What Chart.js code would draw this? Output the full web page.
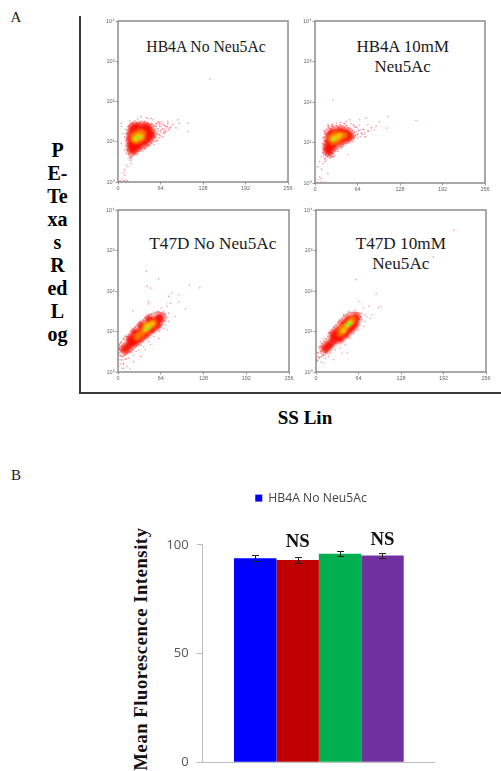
<!DOCTYPE html>
<html><head><meta charset="utf-8">
<style>
html,body{margin:0;padding:0;background:#fff;width:501px;height:771px;overflow:hidden}
canvas{position:absolute;display:block}
.t{position:absolute;font-family:"Liberation Serif",serif;color:#1a1a1a;white-space:nowrap;text-align:center;transform:translateX(-50%);line-height:19.7px}
.b{font-weight:bold;color:#000}
.frame{position:absolute;left:79px;top:16px;width:421px;height:376px;border-left:2px solid #3a3a3a;border-bottom:2px solid #3a3a3a}
#yt{position:absolute;left:141px;top:649px;font:bold 18.5px "Liberation Serif",serif;letter-spacing:.6px;white-space:nowrap;color:#111;transform:translate(-50%,-50%) rotate(-90deg)}
</style></head><body>
<div class="frame"></div>
<div class="t" style="left:16px;top:8px;font-size:15px">A</div>
<div class="t" style="left:16px;top:466px;font-size:15px">B</div>
<div class="t b" style="left:57.5px;top:139px;font-size:20px;line-height:23px">P<br>E-<br>Te<br>xa<br>s<br>R<br>ed<br>L<br>og</div>
<div class="t b" style="left:305px;top:408px;font-size:19px">SS Lin</div>
<div class="t" style="left:206px;top:37px;font-size:15.7px">HB4A No Neu5Ac</div>
<div class="t" style="left:402.7px;top:37px;font-size:16.9px">HB4A 10mM<br>Neu5Ac</div>
<div class="t" style="left:212.8px;top:234px;font-size:17.2px">T47D No Neu5Ac</div>
<div class="t" style="left:400.8px;top:234px;font-size:17.2px">T47D 10mM<br>Neu5Ac</div>
<div id="yt">Mean Fluorescence Intensity</div>
<canvas id="p1"></canvas><canvas id="p2"></canvas><canvas id="p3"></canvas><canvas id="p4"></canvas>
<canvas id="bars"></canvas>
<script src="https://cdn.jsdelivr.net/npm/chart.js@4"></script>
<script>
// ---------- flow cytometry tick labels ----------
const xTickValues = [0, 64, 128, 192, 256];
const yTickValues = [1, 10, 100, 1000, 10000];
const yTickLabels = ['10\u2070', '10\u00B9', '10\u00B2', '10\u00B3', '10\u2074'];

// ---------- HB4A No Neu5Ac: [SS Lin, PE-Texas Red Log] ----------
const hb4aNoSpeck = [[138,363],[57.5,27],[62.5,24.5],[67.5,27],[72.5,22],[60,18],[65,16.5],[70,19.6],[75,29],[80,24],[62.5,12.5],[57.5,12.5],[67.5,13.4],[55,10],[50,9],[45,7.5],[42.5,7],[37.5,5.8],[32.5,5.8],[27.5,4.8],[22.5,4.3],[20,3.5],[15,3.9],[12.5,5.1],[10,6.2],[15,7.5],[12.5,10],[17.5,3.5],[12.5,2.6],[10,2],[7.5,1.7],[15,2.4],[20,2.9],[6,1.2],[10,1.1],[14,1.05],[4,1.05],[8,1.05],[12.5,1.05],[15,1.03],[2.5,1.05],[10,1.5],[30,37],[25,33],[35,42],[45,38],[50,38],[42.5,40],[90,35],[92.5,29],[105,29],[105,18],[82.5,27],[87.5,22],[75,32],[65,24],[5,29],[5,24],[7.5,16],[5,9],[17.5,33],[22.5,30],[32.5,29],[40,32],[52.5,35],[12,16],[10,13],[13,12],[14,6],[12,8],[17,4.6],[25,5],[30,5],[40,6.5],[48,8],[54,8.5],[60,11],[64,14],[70,16],[76,20],[58,29],[66,31],[44,30],[36,32],[28,29],[15,24],[12,20]];
const hb4aNoHalo = [[16,24],[18,27],[21,29],[24,27],[27,30],[30,28],[33,31],[36,28],[39,30],[42,27],[45,29],[48,27],[51,28],[54,25],[57,24],[60,21],[56,20],[59,16],[62,15],[55,13],[58,10.5],[53,11],[51,9.5],[48,10],[46,8.3],[43,8],[40,7],[37,6.8],[35,6.2],[33,6.6],[30,5.8],[27,5.5],[24,5],[21,4.6],[18,4.2],[16,5],[14,6.5],[15,9],[13,11],[15,13],[14,16],[15,19],[17,21],[19,4],[23,6],[16,7.5],[64,19],[67,21],[69,17],[72,18],[74,24],[78,22],[63,28],[70,25],[61,31]];
const hb4aNoDense = [[23,22],[30,23],[40,23],[46,21],[50,15.5],[46,12.5],[40,10],[32,8.5],[26,7.2],[21,6.2],[20,8.5],[20,12],[21,16],[27,16],[35,16],[42,16],[27,11],[35,12],[26,9]];
const hb4aNoOrange = [[23,13.4],[27,15],[32,16.5],[37,16],[25,11],[30,11],[36,12.5]];
const hb4aNoYellow = [[27.5,12.5],[31,13.4],[26,11.5],[34,13.4]];
const hb4aNoCore = [[29,13]];

// ---------- HB4A 10mM Neu5Ac ----------
const hb4a10Speck = [[62,18.7],[69.5,20.6],[74.5,17],[67,27.4],[79.5,27.4],[77,40],[67,36.5],[89.5,20.6],[97,33],[109.5,44],[152,35],[108,22.7],[92,25],[52,36.5],[47,33],[32,30],[19.5,27],[24.5,25],[14.5,17],[12,12.8],[11,9.6],[12,6.6],[9.5,4.5],[13,5],[7,3.4],[4.5,2.5],[17,3.7],[22,4.1],[27,5.4],[34.5,6],[42,7.9],[49.5,9.6],[57,10.6],[64.5,12.8],[72,15.5],[14.5,3.4],[19.5,1.7],[7,1.4],[4.5,1.2],[2,1.04],[8,1.04],[12,1.04],[16,1.04],[9.5,1.3],[49.5,5],[27,110],[14,6],[16,4.7],[12,3],[10,2.2],[20,5],[60,24],[54,29],[38,31],[60,14],[68,14],[40,7],[30,4.6]];
const hb4a10Halo = [[14,19],[17,21],[20,23],[23,22],[26,25],[29,24],[32,26],[35,24],[38,27],[41,25],[44,24],[47,26],[50,23],[53,22],[56,20],[59,18],[61,15],[58,13],[55,12],[52,10.5],[49,11],[46,9.5],[43,9],[40,8],[37,7.6],[34,7],[31,6.3],[28,6.5],[25,5.5],[22,5],[19,4.5],[16,5.2],[14,7],[13,9],[15,11],[14,13.5],[16,16],[18,8],[21,6],[24,4.4],[27,4.5],[64,16],[66,20],[70,17],[73,21],[76,14],[80,19],[85,23],[62,24],[58,27],[44,29],[26,28],[20,26],[12,5.5],[15,4]];
const hb4a10Dense = [[27,17.5],[37,19],[46,17.5],[52,14.5],[23,15],[21,10.6],[19,7.5],[21,6],[27,8.2],[37,10.6],[46,12.8],[32,14],[42,14.6],[27,10.6]];
const hb4a10Orange = [[24.5,12.8],[29.5,15.5],[37,15.5],[44,15],[27,10.6],[34.5,11.7]];
const hb4a10Yellow = [[27,12.2],[32,13.5],[37,14.6]];
const hb4a10Core = [[29,12.2]];

// ---------- T47D No Neu5Ac ----------
const t47dNoSpeck = [[42.5,307],[61,198],[43.5,130],[48.5,118],[107,141],[122.5,121],[81,89],[76,74],[91,81],[91,55],[46,55],[46,48],[22.5,32],[101,36],[78.5,50],[73.5,42],[64.5,38],[86,23.5],[71,26],[76,28.5],[68.5,31],[58.5,28.5],[48.5,21.4],[41,17.7],[31,13.3],[23.5,10],[16,7.5],[8.5,6.2],[3.5,5.1],[76,17.7],[71,14.6],[68.5,12],[61,10],[53.5,7.5],[46,5.6],[38.5,4.2],[31,3.5],[23.5,2.6],[16,2.2],[8.5,2],[3.5,1.6],[1,1.36],[6,1.23],[13.5,1.36],[18.5,1.19],[23.5,1.8],[33.5,2.4],[1,3.9],[2,2.6],[8.5,1.23],[41,3.5],[48.5,4.7],[61,6.8],[73.5,11],[5,3.2],[3,4.2],[9,5],[13,6.4],[11,2.8],[15,3],[20,3.2],[27,3.2],[35,4.6],[66,18],[72,21],[53,30],[40,15],[28,9.5],[19,8.2]];
const t47dNoHalo = [[2,4.8],[5,5.5],[8,6.8],[11,7.6],[14,7.5],[17,8.5],[20,10],[23,11.5],[26,13],[29,14.5],[32,16],[35,17.5],[38,19],[41,22],[44,24],[47,26],[50,27],[53,27],[56,29],[59,31],[62,30],[65,29],[68,28],[4,2.5],[7,2.4],[10,2.6],[13,2.9],[16,3.2],[19,3.1],[22,3.5],[25,4],[28,4.4],[31,4.8],[34,5.4],[37,5.8],[40,6.6],[43,7.2],[46,8],[49,8.8],[52,9.6],[55,10.5],[58,11.5],[61,12.6],[64,14],[67,15.5],[70,18],[72,23],[70,27],[1,3],[1,2],[3,3.5],[6,4.4],[0.5,4.5],[2,3.8],[5,2],[8,1.6],[12,2.1]];
const t47dNoDense = [[10,3.6],[16,4.4],[22,5.4],[28.5,7.5],[36,9.6],[43.5,12.4],[51,15.5],[58.5,19],[63,22],[26,6],[33,7],[41,8.8],[50,11.6],[58,14.5],[19,6.4],[26,9.2],[36,13.5],[47,19.5]];
const t47dNoOrange = [[33.5,8.4],[38.5,10],[43.5,12.4],[48.5,14.5],[53.5,16.5],[41,13.4],[28.5,7.3]];
const t47dNoYellow = [[41,11.2],[46,13],[51,15.5],[43.5,14]];
const t47dNoCore = [[44,12]];

// ---------- T47D 10mM Neu5Ac ----------
const t47d10Speck = [[207.5,3133],[176.5,697],[60.5,191],[90.5,86],[97.5,42],[94,38],[64,55],[79,42],[71.5,38],[59,34],[69,28.5],[74,26],[84,26],[81.5,21],[74,17.7],[71.5,13.3],[64,11],[56.5,9.1],[51.5,6.8],[44,4.7],[36.5,3.9],[47.5,3],[29,3.5],[21.5,2.9],[14,2.2],[7.5,1.74],[1.5,2],[0.5,2.9],[4,3.9],[6.5,5.6],[11.5,6.8],[19,9.1],[26.5,12],[34,17.7],[41.5,26],[49,31],[51.5,26],[19,2.4],[26.5,2],[11.5,1.64],[39,2.9],[4,2.4],[76.5,23.5],[69,19.5],[64,14.6],[8,2.8],[12,2.6],[16,3],[24,4.5],[31,5],[9,4.4],[14,5.4],[40,6],[48,7.2],[58,12],[66,17],[56,28]];
const t47d10Halo = [[3,3],[6,4.2],[9,5],[12,5.8],[15,6.6],[18,7.6],[21,9.5],[24,11],[27,13],[30,14.5],[33,16.5],[36,19],[39,21],[42,24],[45,26],[48,28],[51,29],[54,29],[57,30],[60,29],[63,29],[66,27],[5,2.2],[8,2.4],[11,2.6],[14,3],[17,3.3],[20,3.6],[23,4.1],[26,4.7],[29,5.3],[32,5.9],[35,6.5],[38,7.2],[41,8],[44,9],[47,10],[50,11],[53,12.2],[56,13.5],[59,16],[62,17.5],[65,20],[67,23],[1,2.4],[2,1.9],[7,3.2]];
const t47d10Dense = [[14,3.8],[20,4.7],[26.5,6.2],[34,8.3],[41.5,11],[49,14.6],[56,18.5],[60,22],[27,8.4],[34,10.5],[41.5,15],[49,19.5],[36,6.8],[44,8.8],[51,11.5],[57,14.6]];
const t47d10Orange = [[36.5,9.1],[41.5,11],[46.5,14],[51.5,16.7],[55.5,19.5],[39,12]];
const t47d10Yellow = [[41.5,10.5],[46.5,14],[51.5,16.7]];
const t47d10Core = [[48,14.4],[50.5,16]];

// ---------- bar chart ----------
const barCategories = [''];
const barSeriesNames = ['HB4A No Neu5Ac', 'HB4A 10mM Neu5Ac', 'T47D No Neu5Ac', 'T47D 10mM Neu5Ac'];
const barValues = [93.9, 93.1, 95.9, 95.1];
const barErrors = [1.5, 1.2, 1.2, 1.3];
const barColors = ['#0000ff', '#c00000', '#00b050', '#7030a0'];
const nsLabels = ['', 'NS', '', 'NS'];
const nsBaselines = [0, 99.2, 0, 100.1];
const barTicks = [0, 50, 100];

// ---------- scatter panels ----------
function toPts(a){ return a.map(p => ({x:p[0], y:p[1]})); }
const frameBorder = { id:'frameBorder',
  beforeDatasetDraw(c,args){ const s=c.data.datasets[args.index].soft; if(s){ c.ctx.save(); c.ctx.filter='blur('+s+'px)'; } },
  afterDatasetDraw(c,args){ if(c.data.datasets[args.index].soft){ c.ctx.restore(); } },
  afterDatasetsDraw(c){
    const a = c.chartArea, g = c.ctx; g.save(); g.strokeStyle='#8c8c8c'; g.lineWidth=1.5;
    g.strokeRect(a.left,a.top,a.right-a.left,a.bottom-a.top); g.restore(); } };

function panel(id, box, speck, halo, dense, orange, yellow, core){
  const cv = document.getElementById(id);
  const padL=24, padR=12, padT=7, padB=16;
  cv.style.left=(box.l-padL)+'px'; cv.style.top=(box.t-padT)+'px';
  cv.style.filter='blur(0.3px)';
  cv.width=box.w+padL+padR; cv.height=box.h+padT+padB;
  const ds = (name,data,color,r,soft) => ({label:name,data:toPts(data),backgroundColor:color,pointRadius:r,pointBorderWidth:0,showLine:false,pointHoverRadius:r,soft:soft});
  new Chart(cv,{type:'scatter',
    data:{datasets:[
      ds('core',core,'#9be828',1.8,0.5),
      ds('yellow',yellow,'rgba(245,205,0,.85)',2.8,1),
      ds('orange',orange,'rgba(255,125,0,.8)',3.8,1.3),
      ds('dense',dense,'rgba(250,10,0,.9)',4.6,1.4),
      ds('halo',halo,'rgba(255,30,40,.6)',0.9,0),
      ds('speck',speck,'rgba(255,50,60,.5)',0.8,0)
    ]},
    plugins:[frameBorder],
    options:{responsive:false,animation:false,
      layout:{padding:{top:padT,right:padR,left:0,bottom:0}},
      plugins:{legend:{display:false},tooltip:{enabled:false}},
      scales:{
        x:{type:'linear',min:0,max:256,
          afterBuildTicks(s){ s.ticks = xTickValues.map(v=>({value:v})); },
          afterFit(s){ s.height=padB; },
          grid:{drawOnChartArea:false,tickLength:2.5,color:'#999'},border:{display:false},
          ticks:{autoSkip:false,maxRotation:0,padding:1,color:'#666',font:{size:5.5,family:'"Liberation Sans"'},callback:v=>String(v)}},
        y:{type:'logarithmic',min:1,max:10000,
          afterBuildTicks(s){ s.ticks = yTickValues.map(v=>({value:v})); },
          afterFit(s){ s.width=padL; },
          grid:{drawOnChartArea:false,tickLength:2.5,color:'#999'},border:{display:false},
          ticks:{autoSkip:false,padding:1,color:'#666',font:{size:5.5,family:'"Liberation Sans"'},
            callback:v=>yTickLabels[yTickValues.indexOf(v)]}}
      }}});
}
panel('p1',{l:118.3,t:21,w:170.4,h:161},hb4aNoSpeck,hb4aNoHalo,hb4aNoDense,hb4aNoOrange,hb4aNoYellow,hb4aNoCore);
panel('p2',{l:315.3,t:21,w:170.7,h:162},hb4a10Speck,hb4a10Halo,hb4a10Dense,hb4a10Orange,hb4a10Yellow,hb4a10Core);
panel('p3',{l:117.7,t:210,w:171.6,h:162},t47dNoSpeck,t47dNoHalo,t47dNoDense,t47dNoOrange,t47dNoYellow,t47dNoCore);
panel('p4',{l:315.7,t:210,w:170.3,h:162},t47d10Speck,t47d10Halo,t47d10Dense,t47d10Orange,t47d10Yellow,t47d10Core);

// ---------- bars ----------
const errorAndNs = { id:'errorAndNs',
  beforeInit(c){ const f=c.legend.fit; c.legend.fit=function(){ f.call(this); this.height+=30.7; }; },
  afterLayout(c){ c.legend.left+=20; },
  afterDatasetsDraw(c){
    const g=c.ctx, y=c.scales.y; g.save();
    barValues.forEach((v,i)=>{
      const x=c.getDatasetMeta(i).data[0].x;
      g.strokeStyle='#222'; g.lineWidth=1; g.beginPath();
      const a=Math.round(y.getPixelForValue(v+barErrors[i]))+.5, b=Math.round(y.getPixelForValue(v-barErrors[i]))+.5, cx=Math.round(x)+.5;
      g.moveTo(cx,a); g.lineTo(cx,b);
      g.moveTo(cx-3.5,a); g.lineTo(cx+3.5,a);
      g.moveTo(cx-3.5,b); g.lineTo(cx+3.5,b); g.stroke();
      if(nsLabels[i]){
        g.fillStyle='#111'; g.font='bold 18.8px "Liberation Serif"'; g.textAlign='center'; g.textBaseline='alphabetic';
        g.fillText(nsLabels[i],x,y.getPixelForValue(nsBaselines[i]));
      }
    });
    g.restore();
  }};
const bc=document.getElementById('bars');
bc.style.left='167px'; bc.style.top='487px'; bc.width=268; bc.height=300;
bc.style.filter='blur(0.35px)';
new Chart(bc,{type:'bar',
  data:{labels:barCategories,datasets:barValues.map((v,i)=>({label:barSeriesNames[i],data:[v],backgroundColor:barColors[i],borderWidth:0,barPercentage:1,categoryPercentage:0.7305}))},
  plugins:[errorAndNs],
  options:{responsive:false,animation:false,
    layout:{padding:{right:0,left:0,top:0,bottom:0}},
    plugins:{tooltip:{enabled:false},legend:{position:'top',labels:{boxWidth:7,boxHeight:7,padding:5,color:'#444',font:{size:12.2,family:'"Open Sans"'},filter:(it)=>it.datasetIndex===0}}},
    scales:{
      x:{grid:{display:false},border:{color:'#bdbdbd',width:1},ticks:{display:false},afterFit(s){s.height=24.7;}},
      y:{min:0,max:100,afterBuildTicks(s){s.ticks=barTicks.map(v=>({value:v}));},afterFit(s){s.width=35.7;},
        grid:{drawOnChartArea:false,tickLength:6,color:'#bdbdbd'},border:{color:'#bdbdbd',width:1},
        ticks:{padding:8,color:'#555',font:{size:13,family:'"Open Sans"'}}}
    }}});
</script>
</body></html>
